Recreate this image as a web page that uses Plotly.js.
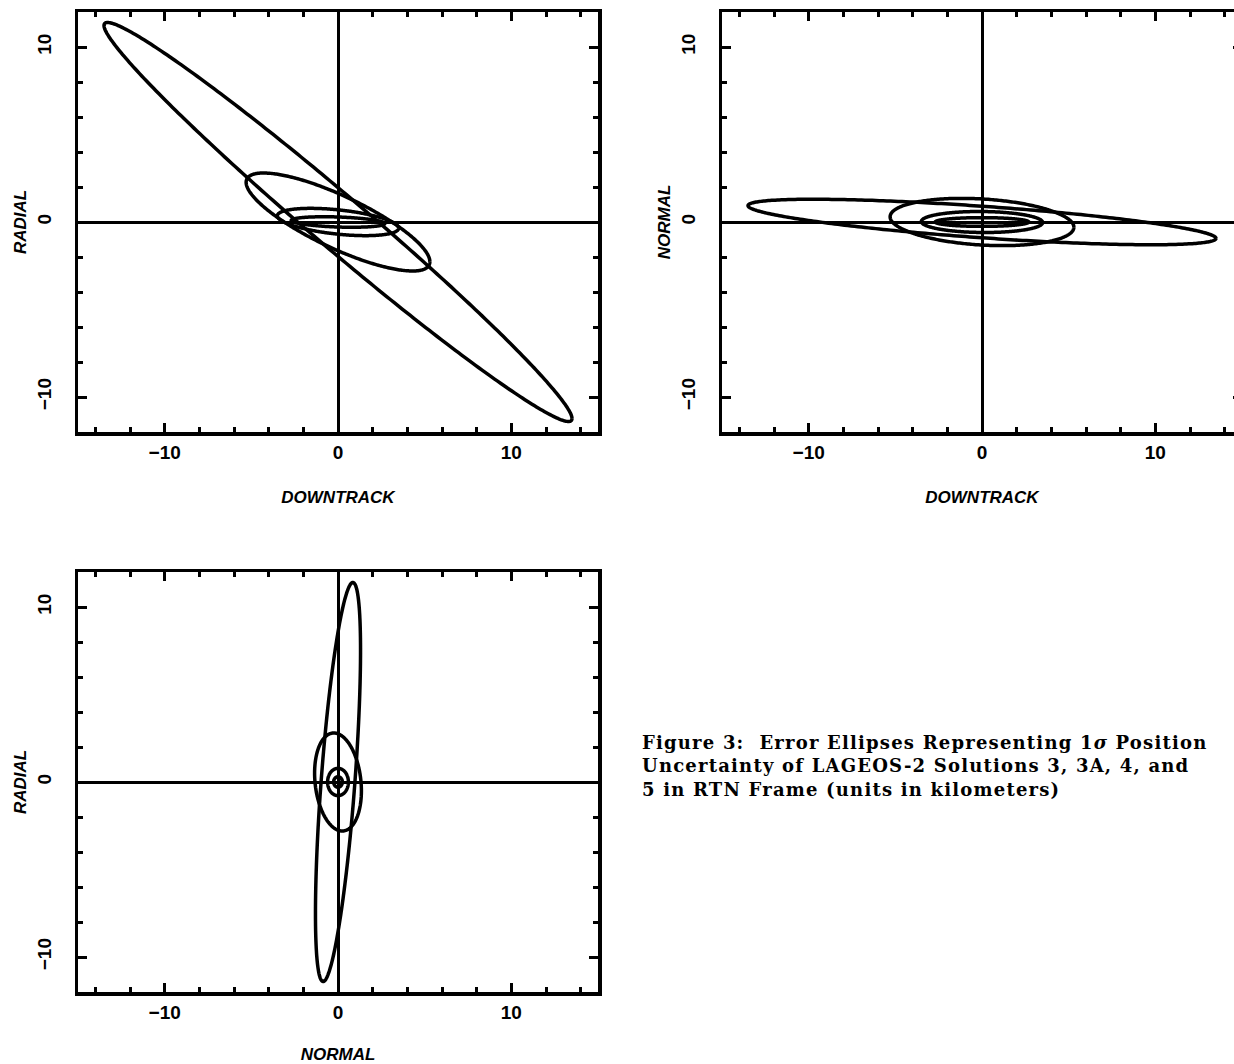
<!DOCTYPE html>
<html><head><meta charset="utf-8">
<script src="https://cdn.plot.ly/plotly-3.0.1.min.js"></script>
<style>html,body{margin:0;padding:0;overflow:hidden;background:#fff;width:1234px;height:1064px}
#chart .annotation-text{letter-spacing:1.2px}</style>
</head><body><div id="chart" style="width:1250px;height:1064px"></div>
<script>
// 1-sigma position uncertainty (km) of LAGEOS-2 solutions, RTN frame
const solutions = ['3', '3A', '4', '5'];
const sigmaDowntrack = [13.5, 5.3, 3.5, 2.7];
const sigmaRadial = [11.4, 2.8, 0.78, 0.3];
const sigmaNormal = [1.3, 1.35, 0.6, 0.25];
const corrDowntrackRadial = [-0.985, -0.81, -0.45, -0.3];
const corrDowntrackNormal = [-0.72, -0.22, -0.05, 0.0];
const corrNormalRadial = [0.66, -0.18, 0.0, 0.0];

const axisRangeX = [-15, 15];
const axisRangeY = [-12, 12];
const axisTitles = ['DOWNTRACK', 'RADIAL', 'DOWNTRACK', 'NORMAL', 'NORMAL', 'RADIAL'];
const caption = [
  'Figure 3:  Error Ellipses Representing 1<i>σ</i> Position',
  'Uncertainty of LAGEOS-2 Solutions 3, 3A, 4, and',
  '5 in RTN Frame (units in kilometers)'
];

// 2-D projection of a covariance ellipse (1 sigma contour)
function ellipse(sx, sy, rho) {
  const xs = [], ys = [];
  const n = 360, q = Math.sqrt(Math.max(0, 1 - rho * rho));
  for (let i = 0; i <= n; i++) {
    const t = 2 * Math.PI * i / n;
    xs.push(sx * Math.cos(t));
    ys.push(sy * (rho * Math.cos(t) + q * Math.sin(t)));
  }
  return {xs, ys};
}

const panels = [
  {sx: sigmaDowntrack, sy: sigmaRadial, rho: corrDowntrackRadial, xa: 'x', ya: 'y'},
  {sx: sigmaDowntrack, sy: sigmaNormal, rho: corrDowntrackNormal, xa: 'x2', ya: 'y2'},
  {sx: sigmaNormal, sy: sigmaRadial, rho: corrNormalRadial, xa: 'x3', ya: 'y3'}
];

const traces = [];
panels.forEach(p => {
  solutions.forEach((s, i) => {
    const e = ellipse(p.sx[i], p.sy[i], p.rho[i]);
    traces.push({
      type: 'scatter', mode: 'lines', x: e.xs, y: e.ys,
      xaxis: p.xa, yaxis: p.ya, name: 'Solution ' + s,
      line: {color: 'black', width: 3.5, simplify: false},
      hoverinfo: 'skip', showlegend: false
    });
  });
});

const W = 1250, H = 1064;
function dx(a, b) { return [a / W, b / W]; }
function dy(top, bottom) { return [1 - bottom / H, 1 - top / H]; }

const tickFont = {family: 'Liberation Sans, Arial, sans-serif', size: 19, color: 'black', weight: 'bold'};
const titleFont = {family: 'Liberation Sans, Arial, sans-serif', size: 17, color: 'black', weight: 'bold', style: 'italic'};

function axis(range, domain, anchor, title, isY) {
  return {
    range: range, domain: domain, anchor: anchor,
    showline: true, linewidth: 3.5, linecolor: 'black', mirror: 'allticks',
    ticks: 'inside', ticklen: 9, tickwidth: 3, tickcolor: 'black',
    tickmode: 'linear', tick0: 0, dtick: 10,
    minor: {dtick: 2, tick0: 0, ticks: 'inside', ticklen: 5, tickwidth: 3, tickcolor: 'black', showgrid: false},
    showgrid: false, zeroline: true, zerolinewidth: 3, zerolinecolor: 'black',
    tickfont: tickFont, tickangle: isY ? -90 : 0,
    ticklabelstandoff: isY ? 16 : 1,
    title: {text: title, font: titleFont, standoff: isY ? 4 : 30},
    fixedrange: true, automargin: false
  };
}

const layout = {
  width: W, height: H,
  margin: {l: 0, r: 0, t: 0, b: 0},
  paper_bgcolor: 'white', plot_bgcolor: 'white',
  showlegend: false,
  xaxis: axis(axisRangeX, dx(78, 598), 'y', axisTitles[0], false),
  yaxis: axis(axisRangeY, dy(12, 432), 'x', axisTitles[1], true),
  xaxis2: axis(axisRangeX, dx(722, 1242), 'y2', axisTitles[2], false),
  yaxis2: axis(axisRangeY, dy(12, 432), 'x2', axisTitles[3], true),
  xaxis3: axis(axisRangeX, dx(78, 598), 'y3', axisTitles[4], false),
  yaxis3: axis(axisRangeY, dy(572, 992), 'x3', axisTitles[5], true),
  annotations: [{
    text: caption.join('<br>'), xref: 'paper', yref: 'paper',
    x: 640 / W, y: 1 - 766 / H,
    xanchor: 'left', yanchor: 'middle', align: 'left', showarrow: false,
    font: {family: 'DejaVu Serif, serif', size: 18, color: 'black', weight: 'bold'}
  }]
};

Plotly.newPlot('chart', traces, layout, {displayModeBar: false, staticPlot: true});
</script></body></html>
